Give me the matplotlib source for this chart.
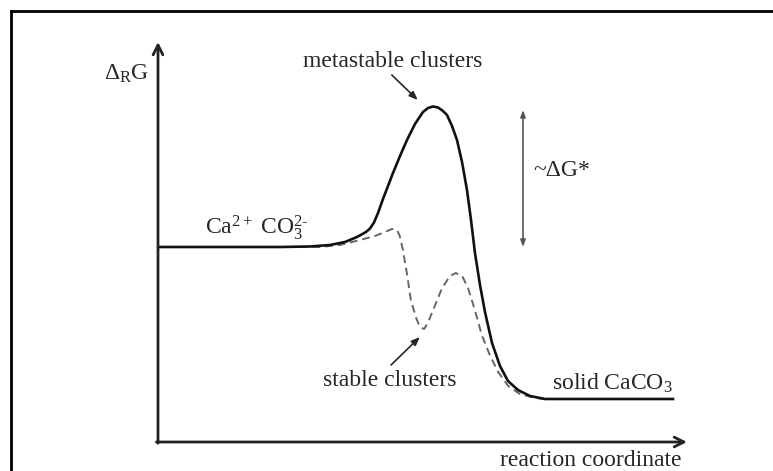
import matplotlib
matplotlib.use('Agg')
import matplotlib.pyplot as plt
from matplotlib.lines import Line2D

plt.rcParams['font.family'] = ['Liberation Serif', 'DejaVu Serif']
plt.rcParams['mathtext.fontset'] = 'custom'
plt.rcParams['mathtext.rm'] = 'Liberation Serif'
plt.rcParams['mathtext.it'] = 'Liberation Serif:italic'

# reaction coordinate (0-100) vs free energy (0-100)
solid_x = [0, 23.06, 28.73, 32.51, 35.35, 37.62, 39.32, 40.08, 40.83, 41.59, 42.53, 43.48, 44.42,
           45.75, 47.07, 48.58, 50.09, 51.04, 51.98, 52.93, 53.88, 54.63, 55.58, 56.52, 57.47, 58.41,
           59.17, 59.92, 60.87, 61.81, 63.14, 64.65, 66.16, 68.05, 70.32, 73.16, 97.35]
solid_y = [48.75, 48.75, 48.88, 49.25, 50.0, 51.25, 52.5, 53.38, 54.88, 57.25, 60.75, 64.0, 67.25,
           71.5, 75.5, 79.5, 82.5, 83.5, 83.88, 83.63, 82.75, 81.75, 79.0, 75.5, 70.0, 63.0,
           55.5, 47.25, 39.25, 32.5, 24.75, 19.0, 15.25, 13.0, 11.5, 10.75, 10.75]

dashed_x = [26.8, 30.6, 34.4, 38.2, 41.0, 42.9, 44.2, 45.2, 45.7, 46.3, 47.1, 47.8, 48.8, 49.5, 50.3,
            51.0, 52.4, 53.7, 55.2, 56.3, 57.5, 58.6, 59.9, 61.2, 62.8, 64.3, 66.2, 68.4, 71.3, 73.2]
dashed_y = [48.75, 48.75, 49.25, 50.5, 51.5, 52.5, 53.25, 53.0, 51.5, 48.0, 41.75, 35.5, 31.0, 28.75, 28.25,
            29.75, 34.25, 38.5, 41.5, 42.25, 41.5, 38.5, 33.0, 26.75, 21.5, 17.5, 14.0, 12.0, 11.0, 10.75]

barrier_x = 69.0
barrier_top, barrier_bottom = 83.0, 48.75

W, H = 773, 471
fig = plt.figure(figsize=(W / 100, H / 100), dpi=100)
ax = fig.add_axes([158 / W, 29 / H, 529 / W, 400 / H])
ax.set_xlim(0, 100)
ax.set_ylim(0, 100)
ax.axis('off')

# frame round the picture (top and left only, rest is cropped)
fig.add_artist(Line2D([11 / W, 1], [1 - 11 / H, 1 - 11 / H], color='black', lw=2.0,
                      transform=fig.transFigure))
fig.add_artist(Line2D([11 / W, 11 / W], [0, 1 - 11 / H], color='black', lw=2.0,
                      transform=fig.transFigure))

# axes as arrows
axis_style = dict(arrowstyle='->,head_length=0.7,head_width=0.35', color='#222222', lw=2.0,
                  shrinkA=0, shrinkB=0)
ax.annotate('', xy=(0, 100), xytext=(0, -0.3), arrowprops=axis_style, annotation_clip=False)
ax.annotate('', xy=(100, 0), xytext=(-0.3, 0), arrowprops=axis_style, annotation_clip=False)

ax.plot(dashed_x, dashed_y, color='#666666', lw=1.4, linestyle=(0, (4, 2.5)))
ax.plot(solid_x, solid_y, color='#111111', lw=1.9, solid_joinstyle='round')

# barrier height double arrow
ax.annotate('', xy=(barrier_x, barrier_top), xytext=(barrier_x, barrier_bottom),
            arrowprops=dict(arrowstyle='<|-|>,head_length=0.4,head_width=0.15', color='#555555',
                            lw=1.2, shrinkA=0, shrinkB=0))

fs = 17
tc = '#262626'
ax.text(-5.9, 92.0, r'$\Delta_{\mathrm{R}}$G', fontsize=fs, ha='center', va='center', color=tc)
ax.text(44.3, 95.2, 'metastable clusters', fontsize=fs, ha='center', va='center', color=tc)
ax.annotate('', xy=(49.1, 85.5), xytext=(44.2, 91.75),
            arrowprops=dict(arrowstyle='-|>,head_length=0.5,head_width=0.2', color=tc,
                            lw=1.2, shrinkA=0, shrinkB=0))
ax.text(8.9, 53.5, r'Ca$^{2+}$ CO$_3^{2\text{-}}$', fontsize=fs, ha='left', va='center', color=tc)
ax.text(70.9, 68.0, '~ΔG*', fontsize=fs, ha='left', va='center', color=tc)
ax.text(43.9, 15.25, 'stable clusters', fontsize=fs, ha='center', va='center', color=tc)
ax.annotate('', xy=(49.5, 26.25), xytext=(44.05, 19.25),
            arrowprops=dict(arrowstyle='-|>,head_length=0.5,head_width=0.2', color=tc,
                            lw=1.2, shrinkA=0, shrinkB=0))
ax.text(74.5, 14.75, r'solid CaCO$_3$', fontsize=fs, ha='left', va='center', color=tc)
ax.text(99.0, -4.5, 'reaction coordinate', fontsize=fs, ha='right', va='center', color=tc,
        clip_on=False)

fig.savefig('out.png', dpi=100)
